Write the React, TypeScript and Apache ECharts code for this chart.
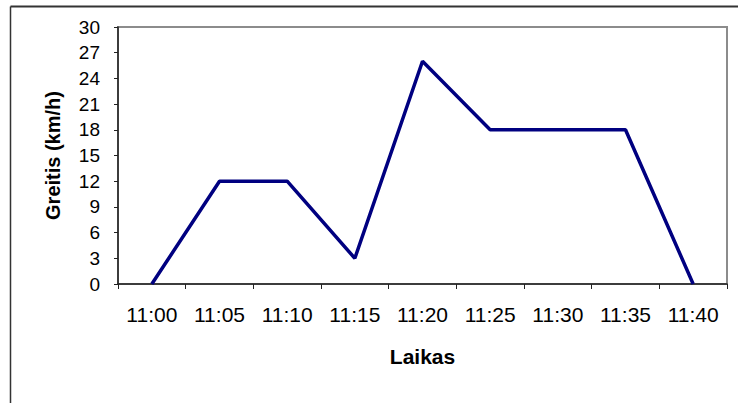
import React, { useEffect, useRef } from "react";
import * as echarts from "echarts";

const categories = ["11:00", "11:05", "11:10", "11:15", "11:20", "11:25", "11:30", "11:35", "11:40"];
const speeds = [0, 12, 12, 3, 26, 18, 18, 18, 0];
const yMin = 0;
const yMax = 30;
const yStep = 3;

export default function App() {
  const ref = useRef<HTMLDivElement>(null);
  useEffect(() => {
    if (!ref.current) return;
    const chart = echarts.init(ref.current, undefined, { renderer: "svg" });
    const font = "'Liberation Sans', Arial, sans-serif";
    chart.setOption({
      animation: false,
      backgroundColor: "#ffffff",
      textStyle: { fontFamily: font, color: "#000" },
      grid: {
        left: 118,
        top: 27,
        right: 11,
        bottom: 119,
        show: true,
        borderColor: "#8c8c8c",
        borderWidth: 2,
        backgroundColor: "transparent",
      },
      graphic: [
        {
          type: "line",
          shape: { x1: 10.5, y1: 6.5, x2: 738, y2: 6.5 },
          style: { stroke: "#333", lineWidth: 2 },
          silent: true,
        },
        {
          type: "line",
          shape: { x1: 10.5, y1: 6.5, x2: 10.5, y2: 403 },
          style: { stroke: "#333", lineWidth: 1.5 },
          silent: true,
        },
      ],
      xAxis: {
        type: "category",
        data: categories,
        boundaryGap: true,
        name: "Laikas",
        nameLocation: "middle",
        nameGap: 62,
        nameTextStyle: { fontFamily: font, fontSize: 21, fontWeight: "bold", color: "#000" },
        axisLine: { show: true, lineStyle: { color: "#222", width: 1.5 } },
        axisTick: { show: true, alignWithLabel: false, length: 5, lineStyle: { color: "#222", width: 1 } },
        axisLabel: { fontFamily: font, fontSize: 21, color: "#000", margin: 20, interval: 0 },
        splitLine: { show: false },
      },
      yAxis: {
        type: "value",
        min: yMin,
        max: yMax,
        interval: yStep,
        name: "Greitis (km/h)",
        nameLocation: "middle",
        nameGap: 55,
        nameRotate: 90,
        nameTextStyle: { fontFamily: font, fontSize: 20, fontWeight: "bold", color: "#000" },
        axisLine: { show: true, lineStyle: { color: "#222", width: 1.5 } },
        axisTick: { show: true, length: 4, lineStyle: { color: "#222", width: 1 } },
        axisLabel: { fontFamily: font, fontSize: 19, color: "#000", margin: 18 },
        splitLine: { show: false },
      },
      series: [
        {
          type: "line",
          data: speeds,
          symbol: "none",
          lineStyle: { color: "#000080", width: 3.5 },
          itemStyle: { color: "#000080" },
        },
      ],
    });
    return () => chart.dispose();
  }, []);
  return (
    <div
      ref={ref}
      style={{ position: "fixed", left: 0, top: 0, width: 738, height: 403, background: "#fff" }}
    />
  );
}
